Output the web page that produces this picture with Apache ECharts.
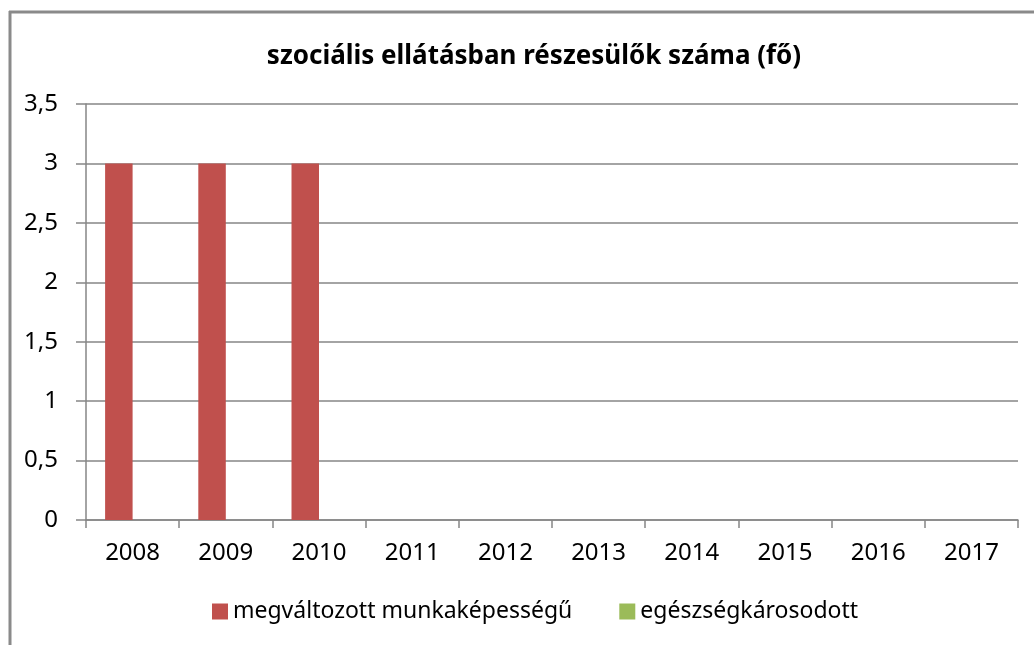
<!DOCTYPE html>
<html>
<head>
<meta charset="utf-8">
<script src="https://cdn.jsdelivr.net/npm/echarts@6/dist/echarts.min.js"></script>
<style>
html,body{margin:0;padding:0;background:#fff;}
#chart{width:1034px;height:645px;}
</style>
</head>
<body>
<div id="chart"></div>
<script>
const titleText = 'szociális ellátásban részesülők száma (fő)';
const categories = ['2008','2009','2010','2011','2012','2013','2014','2015','2016','2017'];
const seriesNames = ['megváltozott munkaképességű','egészségkárosodott'];
const valuesMunka = [3,3,3,0,0,0,0,0,0,0];
const valuesEgeszseg = [0,0,0,0,0,0,0,0,0,0];
const colors = ['#C0504D','#9BBB59'];

const FONT = '"Noto Sans", sans-serif';
const chart = echarts.init(document.getElementById('chart'));
chart.setOption({
  animation: false,
  backgroundColor: '#ffffff',
  title: {
    text: titleText,
    left: 529,
    top: 39,
    textAlign: 'center',
    textStyle: {fontFamily: FONT, fontSize: 26, fontWeight: 'bold', color: '#000'}
  },
  legend: {
    left: 212,
    top: 600,
    padding: 0,
    itemWidth: 16,
    itemHeight: 16,
    itemGap: 47,
    icon: 'rect',
    textStyle: {fontFamily: FONT, fontSize: 23, color: '#000'},
    data: seriesNames
  },
  grid: {left: 86, right: 16, top: 104, bottom: 125, containLabel: false},
  xAxis: {
    type: 'category',
    data: categories,
    axisLine: {lineStyle: {color: '#868686', width: 1.5}},
    axisTick: {show: true, length: 8, lineStyle: {color: '#868686', width: 1.5}},
    axisLabel: {fontFamily: FONT, fontSize: 24, color: '#000', margin: 21}
  },
  yAxis: {
    type: 'value',
    min: 0, max: 3.5, interval: 0.5,
    axisLine: {show: true, lineStyle: {color: '#868686', width: 1.5}},
    axisTick: {show: true, length: 10, lineStyle: {color: '#868686', width: 1.5}},
    splitLine: {lineStyle: {color: '#868686', width: 1.5}},
    axisLabel: {fontFamily: FONT, fontSize: 24, color: '#000', margin: 28,
      formatter: v => String(v).replace('.', ',')}
  },
  series: [
    {name: seriesNames[0], type: 'bar', data: valuesMunka, itemStyle: {color: colors[0]},
     barGap: '0%', barCategoryGap: '41%'},
    {name: seriesNames[1], type: 'bar', data: valuesEgeszseg, itemStyle: {color: colors[1]},
     barGap: '0%', barCategoryGap: '41%'}
  ],
  graphic: [
    {type: 'line', shape: {x1: 9, y1: 12, x2: 1034, y2: 12}, style: {stroke: '#8a8a8a', lineWidth: 3}},
    {type: 'line', shape: {x1: 10, y1: 11, x2: 10, y2: 645}, style: {stroke: '#8a8a8a', lineWidth: 3}}
  ]
});
</script>
</body>
</html>
